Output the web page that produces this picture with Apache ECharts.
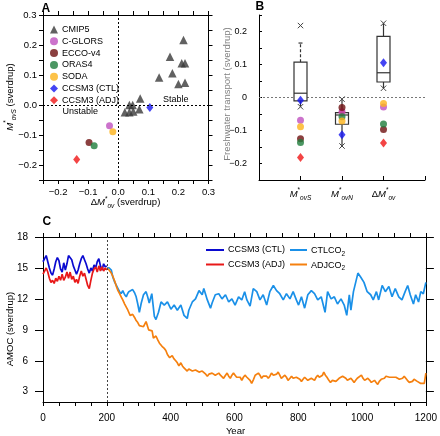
<!DOCTYPE html>
<html><head><meta charset="utf-8">
<script src="https://cdn.jsdelivr.net/npm/echarts@6/dist/echarts.min.js"></script>
<style>html,body{margin:0;padding:0;background:#fff}#c{width:440px;height:436px}</style>
</head><body><div id="c"></div>
<script>
// ---------------- DATA ----------------
// Panel A: CMIP5 models [ΔM*ov, M*ovS]
const cmip5 = [[0.217,0.217],[0.172,0.161],[0.211,0.139],[0.222,0.139],[0.180,0.106],[0.136,0.092],
  [0.200,0.070],[0.222,0.074],[0.073,0.022],[0.037,0.000],[0.048,0.000],[0.070,-0.014],
  [0.022,-0.024],[0.037,-0.024],[0.050,-0.022]];
const aTickLabels = [-0.2,-0.1,0,0.1,0.2,0.3];
// Reanalyses / CCSM3 runs
const refNames = ['C-GLORS','ECCO-v4','ORAS4','SODA','CCSM3 (CTL)','CCSM3 (ADJ)'];
const movS = [-0.069,-0.125,-0.136,-0.089,-0.008,-0.182];
const movN = [-0.043,-0.030,-0.058,-0.071,-0.113,-0.045];
const dMov = [-0.029,-0.097,-0.080,-0.018,0.105,-0.138];
// Panel B box plots (CMIP5) for M*ovS, M*ovN, ΔM*ov
const bCatPrefix = ['','','Δ'];
const bCatSub = ['ovS','ovN','ov'];
const boxLow  = [-0.028,-0.147,0.028];
const boxQ1   = [-0.010,-0.081,0.047];
const boxMed  = [0.013,-0.053,0.075];
const boxQ3   = [0.107,-0.046,0.185];
const boxHigh = [0.165,-0.005,0.225];
const boxCrosses = [[1,-0.028],[1,0.218],[2,-0.005],[2,-0.147],[3,0.225],[3,0.028]];
// Panel C: AMOC (Sv) vs year
const ctl = [[0,15.6],[5,15.9],[10,16.2],[15,15.6],[20,15.0],[25,14.5],[30,14.3],[35,14.9],[40,15.6],[45,16.0],
  [50,15.7],[55,14.9],[60,14.6],[65,15.5],[70,14.8],[75,15.4],[80,16.2],[85,16.3],[90,15.8],[95,15.2],
  [100,14.8],[105,14.4],[110,14.8],[115,15.4],[120,15.9],[125,16.2],[130,15.8],[135,15.4],[140,14.9],[145,14.5],
  [150,15.0],[155,14.7],[160,15.3],[165,15.0],[170,15.6],[175,15.9],[180,15.2],[185,14.8],[190,15.4],[195,15.1],[200,15.2]];
const adj = [[0,14.4],[5,14.7],[10,15.0],[15,14.6],[20,14.0],[25,13.6],[30,13.8],[35,13.5],[40,14.0],[45,13.7],
  [50,14.2],[55,13.8],[60,14.4],[65,13.8],[70,14.1],[75,14.6],[80,14.0],[85,14.6],[90,13.9],[95,14.2],
  [100,13.6],[105,13.9],[110,13.5],[115,14.2],[120,14.7],[125,14.2],[130,14.5],[135,13.9],[140,13.3],[145,13.0],
  [150,13.8],[155,14.5],[160,14.9],[165,15.1],[170,14.6],[175,15.2],[180,14.7],[185,15.1],[190,14.7],[195,15.0],[200,14.8]];
const ctlCO2 = [[200,15.0],[207,15.0],[214,14.8],[219,14.1],[225,13.6],[230,13.3],[235,13.0],[240,12.7],[245,12.5],[250,12.8],
  [256,12.4],[261,12.2],[265,12.5],[269,12.7],[275,12.6],[281,12.9],[287,12.6],[292,12.2],[297,11.5],[302,10.7],
  [308,11.6],[315,12.4],[323,12.7],[328,12.2],[333,11.6],[341,12.5],[349,10.3],[354,10.0],[362,10.7],[370,11.7],
  [380,11.4],[390,11.7],[401,11.0],[411,11.4],[421,10.9],[432,11.4],[442,10.4],[452,10.1],[457,10.9],[468,11.7],
  [478,12.0],[489,12.8],[499,12.4],[504,13.0],[515,11.9],[525,11.1],[530,11.6],[540,12.4],[551,12.5],[561,12.0],
  [572,12.4],[582,11.7],[592,12.0],[602,11.4],[613,12.2],[623,11.9],[632,12.7],[639,11.9],[649,11.3],[659,13.0],
  [670,12.7],[680,11.9],[690,12.4],[701,11.4],[711,12.7],[722,13.3],[732,12.8],[742,12.5],[753,11.9],[763,12.5],
  [774,12.0],[784,12.7],[794,11.9],[801,11.4],[810,12.2],[820,11.1],[830,12.4],[841,12.8],[851,12.5],[861,11.9],
  [872,12.2],[884,10.7],[892,12.7],[903,12.0],[913,12.2],[923,11.5],[934,12.0],[944,11.4],[952,10.4],[960,12.4],
  [965,10.9],[973,12.7],[980,13.6],[987,14.5],[996,14.1],[1006,13.6],[1016,12.7],[1027,12.4],[1035,11.9],[1045,12.7],
  [1052,11.9],[1063,13.3],[1073,12.7],[1084,13.2],[1094,12.2],[1104,13.0],[1115,12.2],[1125,11.9],[1135,12.7],[1143,13.3],
  [1151,12.4],[1161,11.5],[1168,12.4],[1177,11.7],[1184,12.7],[1192,12.5],[1200,13.6]];
const adjCO2 = [[200,15.0],[207,14.8],[214,14.5],[220,14.1],[225,13.7],[230,13.2],[235,12.8],[240,12.5],[245,12.2],[250,11.9],
  [256,11.5],[261,11.2],[266,10.9],[273,10.4],[281,10.5],[287,10.2],[292,9.9],[297,9.7],[302,9.4],[308,9.5],
  [315,9.3],[323,9.8],[331,9.0],[337,9.1],[342,8.9],[346,8.2],[354,8.4],[360,8.0],[365,7.7],[373,7.4],
  [380,7.2],[385,7.0],[390,6.6],[397,6.3],[405,6.5],[410,6.2],[416,6.0],[421,5.8],[426,5.5],[432,5.8],
  [437,5.5],[442,5.3],[447,5.2],[452,5.0],[457,5.2],[463,5.2],[468,5.0],[473,4.9],[478,5.1],[483,5.1],
  [489,4.9],[494,4.8],[499,5.0],[504,5.0],[510,4.7],[515,4.5],[520,4.7],[525,4.6],[530,4.8],[535,4.8],
  [540,4.6],[546,4.5],[551,4.8],[556,4.6],[561,4.7],[566,4.3],[572,4.6],[577,4.8],[582,4.5],[587,4.3],
  [592,4.6],[597,4.8],[602,4.6],[607,4.4],[613,4.5],[618,4.4],[623,4.1],[628,4.4],[633,4.6],[639,4.4],
  [644,4.3],[649,4.1],[654,3.8],[660,4.2],[665,4.6],[670,4.5],[675,4.8],[680,4.6],[685,4.3],[690,4.5],
  [696,4.6],[701,4.5],[706,4.3],[711,4.5],[716,4.8],[722,4.6],[727,4.5],[732,4.7],[737,4.9],[742,4.6],
  [747,4.3],[753,4.4],[758,4.6],[763,4.4],[768,4.1],[774,4.3],[779,4.5],[784,4.3],[789,4.2],[794,4.4],
  [799,4.5],[805,4.2],[810,4.0],[815,4.2],[820,4.4],[825,4.3],[830,4.1],[836,4.2],[841,4.3],[846,4.2],
  [851,4.1],[856,4.4],[861,4.6],[866,4.4],[872,4.3],[876,4.6],[880,4.9],[885,4.6],[890,4.4],[896,4.1],
  [901,3.9],[907,4.1],[913,4.2],[918,4.0],[923,4.1],[928,4.3],[934,4.3],[939,4.5],[944,4.6],[949,4.3],
  [954,4.1],[960,4.2],[965,4.3],[970,4.1],[975,3.9],[980,4.1],[985,4.3],[991,4.4],[998,4.6],[1003,4.3],
  [1008,4.1],[1013,4.2],[1018,4.3],[1024,4.1],[1029,3.9],[1034,4.0],[1039,4.1],[1044,3.9],[1049,3.7],[1054,4.0],
  [1060,4.2],[1065,4.1],[1070,4.3],[1075,4.5],[1080,4.6],[1086,4.4],[1091,4.3],[1096,4.4],[1101,4.5],[1106,4.4],
  [1111,4.3],[1117,4.2],[1122,4.1],[1127,4.3],[1132,4.5],[1137,4.3],[1142,4.1],[1148,3.9],[1153,3.8],[1158,4.0],
  [1163,4.2],[1168,4.1],[1173,4.0],[1179,3.9],[1184,3.8],[1190,3.7],[1195,3.8],[1200,4.8]];
const amocTicks = [3,6,9,12,15,18];

// ---------------- STYLE ----------------
const FONT = "'Liberation Sans', Arial, Helvetica, sans-serif";
const refColors = ['#bf50bf','#6e1010','#1f7d3c','#fcb31a','#1515f0','#f01515'];
const refSymbols = ['circle','circle','circle','circle','diamond','diamond'];
const refSizes = [7,7,7,7,[7,9],[7,9]];
const cColors = {ctl:'#0a0ad0', adj:'#e81818', ctlco2:'#1a90e8', adjco2:'#f5800f'};

function fmtTenth(v, zeroPlain) {
  const r = Math.round(v * 100);
  if (r % 10 !== 0) return '';
  if (r === 0) return zeroPlain ? '0' : '0.0';
  return (r < 0 ? '\u2212' : '') + (Math.abs(r) / 100).toFixed(1);
}
function richSet(size, color, forGraphic) {
  const c = forGraphic ? 'fill' : 'color';
  const mk = (o) => { o[c] = color; o.fontFamily = FONT; return o; };
  return {
    n: mk({fontSize:size, lineHeight:size+5}),
    i: mk({fontSize:size, fontStyle:'italic', lineHeight:size+5}),
    s: mk({fontSize:size-3, lineHeight:size-2, verticalAlign:'top'}),
    b: mk({fontSize:size-3, lineHeight:size-2, verticalAlign:'bottom', fontStyle:'italic'})
  };
}
const line = {show:true, onZero:false, lineStyle:{color:'#000', width:1}};
const tickOut = (len) => ({show:true, inside:false, length:len, lineStyle:{color:'#000', width:1}});
const tickIn = (len) => ({show:true, inside:true, length:len, lineStyle:{color:'#000', width:1}});
const lab = (fs, extra) => Object.assign({color:'#000', fontSize:fs, fontFamily:FONT, showMinLabel:true, showMaxLabel:true, hideOverlap:false}, extra);
const noLab = {show:false};

const chart = echarts.init(document.getElementById('c'), null, {width:440, height:436});

const gA = {left:43, top:15, width:165.5, height:165};
const gB = {left:259, top:15, width:166, height:165};
const gC = {left:43, top:237, width:386, height:165};
const yLabMarginA = 6;
// the top label (0.3) of panel A's left axis is drawn separately at the grid's top edge
const aYAxisLabels = aTickLabels.slice(0, -1);
const aYTopLabel = aTickLabels[aTickLabels.length - 1];

const xAxes = [
  {gridIndex:0, type:'value', min:-0.25, max:0.3, interval:0.05, axisLine:line, axisTick:tickOut(4), splitLine:{show:false},
   axisLabel:lab(9.5,{margin:7, customValues:aTickLabels, formatter:v=>fmtTenth(v,false)})},
  {gridIndex:0, type:'value', position:'top', min:-0.25, max:0.3, interval:0.05, axisLine:line, axisTick:tickOut(4), splitLine:{show:false}, axisLabel:noLab},
  {gridIndex:1, type:'value', min:0, max:4, interval:1, axisLine:line, axisTick:tickIn(4), splitLine:{show:false},
   axisLabel:lab(9.5,{margin:7, rich:richSet(9.5,'#000',false), formatter:v=>{
     const i = Math.round(v) - 1; if (i < 0 || i > 2) return '';
     return (bCatPrefix[i] ? '{n|' + bCatPrefix[i] + '}' : '') + '{i|M}{s|*}{b|' + bCatSub[i] + '}'; }})},
  {gridIndex:2, type:'value', min:0, max:1200, interval:50, axisLine:line, axisTick:tickOut(4), splitLine:{show:false},
   axisLabel:lab(10,{margin:11, formatter:v=>(v % 200 === 0 ? String(v) : '')})},
  {gridIndex:2, type:'value', position:'top', min:0, max:1200, interval:50, axisLine:line, axisTick:tickOut(4), splitLine:{show:false}, axisLabel:noLab}
];
const yAxes = [
  {gridIndex:0, type:'value', min:-0.25, max:0.3, interval:0.05, axisLine:line, axisTick:tickOut(4), splitLine:{show:false},
   axisLabel:lab(9.5,{margin:yLabMarginA, customValues:aYAxisLabels, formatter:v=>fmtTenth(v,false)})},
  {gridIndex:0, type:'value', position:'right', min:-0.25, max:0.3, interval:0.05, axisLine:line, axisTick:tickOut(4), splitLine:{show:false}, axisLabel:noLab},
  {gridIndex:1, type:'value', min:-0.25, max:0.25, interval:0.05, axisLine:line, axisTick:tickIn(3), splitLine:{show:false},
   axisLabel:lab(9,{margin:12, formatter:v=>fmtTenth(v,true)})},
  {gridIndex:2, type:'value', min:2, max:18, axisLine:line, splitLine:{show:false},
   axisTick:Object.assign(tickOut(8),{customValues:amocTicks}),
   axisLabel:lab(10,{margin:15, customValues:amocTicks})},
  {gridIndex:2, type:'value', position:'right', min:2, max:18, axisLine:line, splitLine:{show:false},
   axisTick:Object.assign(tickOut(8),{customValues:amocTicks}), axisLabel:noLab}
];

const series = [];
series.push({name:'CMIP5', type:'scatter', xAxisIndex:0, yAxisIndex:0, data:cmip5, symbol:'triangle', symbolSize:8.5,
  itemStyle:{color:'#3a3a3a'}, z:3,
  markLine:{silent:true, symbol:['none','none'], label:{show:false}, animation:false,
    lineStyle:{color:'#000', type:[2,2], width:1}, data:[{xAxis:0},{yAxis:0}]}});
refNames.forEach((nm, k) => {
  series.push({name:nm, type:'scatter', xAxisIndex:0, yAxisIndex:0, data:[[dMov[k], movS[k]]],
    symbol:refSymbols[k], symbolSize:refSizes[k], itemStyle:{color:refColors[k]}, z:4});
});
series.push({type:'custom', xAxisIndex:2, yAxisIndex:2, z:2,
  data: boxQ1.map((q, i) => [i + 1, boxLow[i], q, boxMed[i], boxQ3[i], boxHigh[i]]),
  encode:{x:0, y:[1,2,3,4,5]},
  renderItem:(params, api) => {
    const x = api.value(0);
    const p = (v) => api.coord([x, v]);
    const lo = p(api.value(1)), q1 = p(api.value(2)), md = p(api.value(3)), q3 = p(api.value(4)), hi = p(api.value(5));
    const hw = 6.5, cx = lo[0];
    const st = {stroke:'#333', lineWidth:1.2, fill:null};
    const dashedTop = params.dataIndex === 0;
    const ch = [
      {type:'line', shape:{x1:cx, y1:q3[1], x2:cx, y2:hi[1]}, style:Object.assign({}, st, dashedTop ? {lineDash:[3,2]} : {})},
      {type:'line', shape:{x1:cx, y1:q1[1], x2:cx, y2:lo[1]}, style:st},
      {type:'rect', shape:{x:cx - hw, y:q3[1], width:2 * hw, height:q1[1] - q3[1]}, style:{stroke:'#333', lineWidth:1.2, fill:'#fff'}},
      {type:'line', shape:{x1:cx - hw, y1:md[1], x2:cx + hw, y2:md[1]}, style:st}
    ];
    if (dashedTop) ch.push({type:'line', shape:{x1:cx - 2, y1:hi[1], x2:cx + 2, y2:hi[1]}, style:st});
    return {type:'group', children:ch};
  }});
series.push({type:'custom', xAxisIndex:2, yAxisIndex:2, z:2, data:boxCrosses,
  renderItem:(params, api) => {
    const c = api.coord([api.value(0), api.value(1)]), r = 2.7;
    const st = {stroke:'#444', lineWidth:1};
    return {type:'group', children:[
      {type:'line', shape:{x1:c[0]-r, y1:c[1]-r, x2:c[0]+r, y2:c[1]+r}, style:st},
      {type:'line', shape:{x1:c[0]-r, y1:c[1]+r, x2:c[0]+r, y2:c[1]-r}, style:st}]};
  }});
[5,0,1,2,3,4].forEach((k, j) => {
  const s = {name:refNames[k], type:'scatter', xAxisIndex:2, yAxisIndex:2, z:4,
    data:[[1, movS[k]], [2, movN[k]], [3, dMov[k]]],
    symbol:refSymbols[k], symbolSize:refSizes[k], itemStyle:{color:refColors[k]}};
  if (j === 0) s.markLine = {silent:true, symbol:['none','none'], label:{show:false}, animation:false, z:1,
    lineStyle:{color:'#777', type:[2,2], width:1}, data:[{yAxis:0}]};
  series.push(s);
});
const mkLine = (name, data, color, extra) => Object.assign({name, type:'line', xAxisIndex:3, yAxisIndex:3, data,
  showSymbol:false, symbol:'none', lineStyle:{color, width:1.7}, itemStyle:{color}}, extra || {});
series.push(mkLine('CCSM3 (CTL) ', ctl, cColors.ctl, {markLine:{silent:true, symbol:['none','none'], label:{show:false}, animation:false,
  lineStyle:{color:'#444', type:[2,2], width:1}, data:[{xAxis:200}]}}));
series.push(mkLine('CCSM3 (ADJ) ', adj, cColors.adj));
series.push(mkLine('CTLCO2', ctlCO2, cColors.ctlco2));
series.push(mkLine('ADJCO2', adjCO2, cColors.adjco2));

const tg = (x, y, text, o) => ({type:'text', x, y, silent:true, style:Object.assign({text, fill:'#000', fontFamily:FONT, fontSize:9.5}, o || {})});
const sub2 = {n:{fontSize:9, fill:'#000', fontFamily:FONT, lineHeight:13}, b:{fontSize:6.5, fill:'#000', fontFamily:FONT, lineHeight:7, verticalAlign:'bottom'}};
const graphic = [
  tg(41.5, 2.5, 'A', {fontSize:12, fontWeight:'bold', verticalAlign:'top'}),
  tg(255.5, 0.5, 'B', {fontSize:12, fontWeight:'bold', verticalAlign:'top'}),
  tg(42.5, 215.5, 'C', {fontSize:12, fontWeight:'bold', verticalAlign:'top'}),
  tg(163, 99.5, 'Stable', {fontSize:9, verticalAlign:'middle'}),
  tg(62.5, 112, 'Unstable', {fontSize:9, verticalAlign:'middle'}),
  // top label of panel A's left axis, at the grid's top edge (value = axis max)
  Object.assign(tg(gA.left - yLabMarginA - 0.5, gA.top, fmtTenth(aYTopLabel, false), {align:'right', verticalAlign:'middle'}), {z:100}),
  Object.assign(tg(10, 97, '{i|M}{s|*}{b|ovS}{n| (sverdrup)}', {align:'center', verticalAlign:'middle', rich:richSet(9.5,'#000',true)}), {rotation:Math.PI/2}),
  tg(125.5, 202.5, '{n|Δ}{i|M}{s|*}{b|ov}{n| (sverdrup)}', {align:'center', verticalAlign:'middle', rich:richSet(9.5,'#000',true)}),
  Object.assign(tg(227.5, 94, 'Freshwater transport (sverdrup)', {align:'center', verticalAlign:'middle', fill:'#808080', fontSize:9.5}), {rotation:Math.PI/2}),
  Object.assign(tg(10, 329, 'AMOC (sverdrup)', {align:'center', verticalAlign:'middle', fontSize:9.5}), {rotation:Math.PI/2}),
  tg(235.5, 431, 'Year', {align:'center', verticalAlign:'middle', fontSize:9.5}),
  {type:'line', silent:true, shape:{x1:206, y1:250, x2:224, y2:250}, style:{stroke:cColors.ctl, lineWidth:2}},
  {type:'line', silent:true, shape:{x1:206, y1:264.5, x2:224, y2:264.5}, style:{stroke:cColors.adj, lineWidth:2}},
  {type:'line', silent:true, shape:{x1:290, y1:250, x2:307, y2:250}, style:{stroke:cColors.ctlco2, lineWidth:2}},
  {type:'line', silent:true, shape:{x1:290, y1:264.5, x2:307, y2:264.5}, style:{stroke:cColors.adjco2, lineWidth:2}},
  tg(228, 250, 'CCSM3 (CTL)', {verticalAlign:'middle', fontSize:9}),
  tg(228, 264.5, 'CCSM3 (ADJ)', {verticalAlign:'middle', fontSize:9}),
  tg(311, 251, '{n|CTLCO}{b|2}', {verticalAlign:'middle', rich:sub2}),
  tg(311, 265.5, '{n|ADJCO}{b|2}', {verticalAlign:'middle', rich:sub2})
];

chart.setOption({
  animation:false,
  backgroundColor:'#fff',
  grid:[gA, gB, gC],
  xAxis:xAxes,
  yAxis:yAxes,
  legend:{show:true, orient:'vertical', left:45, top:20, itemWidth:8, itemHeight:8, itemGap:2.8,
    textStyle:{fontSize:9, color:'#000', fontFamily:FONT, padding:[0,0,0,-1]},
    data:['CMIP5'].concat(refNames), selectedMode:false},
  series,
  graphic
});
</script>
</body></html>
